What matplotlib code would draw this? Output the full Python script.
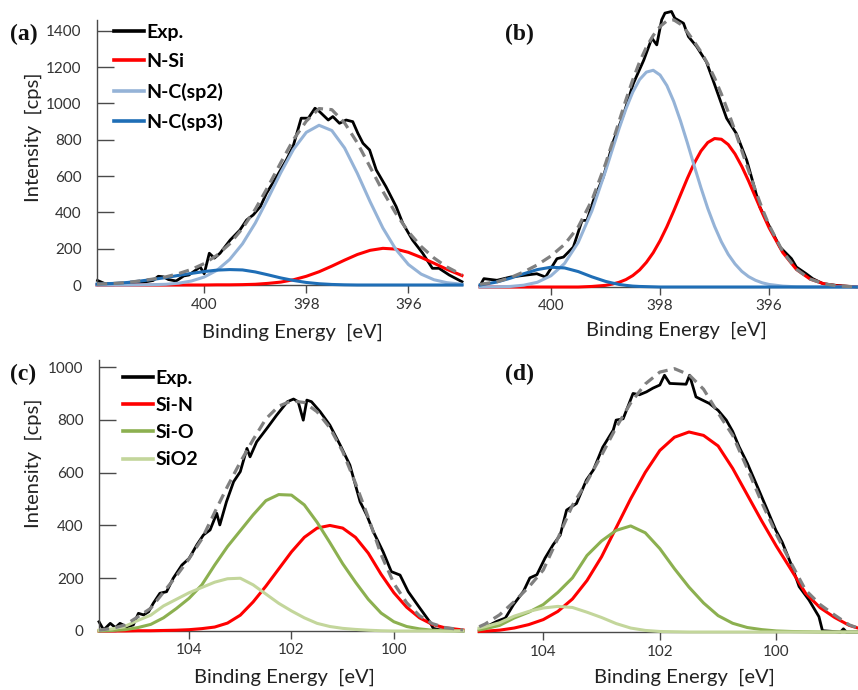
import matplotlib
matplotlib.use("Agg")
import matplotlib.pyplot as plt
from matplotlib.lines import Line2D

# ---------------- data: panel (a) N1s ----------------
a_E_exp = [402.09, 401.95, 401.8, 401.6, 401.4, 401.2, 401.0, 400.9, 400.8, 400.7, 400.55, 400.4, 400.3, 400.15,
           400.08, 400.0, 399.9, 399.8, 399.69, 399.49, 399.3, 399.17, 399.04, 398.9, 398.78, 398.58, 398.39,
           398.26, 398.1, 397.96, 397.83, 397.74, 397.64, 397.57, 397.48, 397.35, 397.22, 397.09, 396.99, 396.89,
           396.76, 396.63, 396.44, 396.24, 396.11, 395.92, 395.72, 395.53, 395.4, 395.2, 394.95]
a_exp = [25, 8, 5, 8, 10, 15, 25, 48, 45, 30, 22, 50, 55, 85, 100, 62, 175, 148, 175, 248, 303, 358, 386, 432,
         505, 597, 689, 762, 919, 919, 974, 955, 928, 909, 928, 891, 909, 900, 836, 781, 744, 634, 542, 432, 340,
         248, 175, 92, 92, 55, 18]
a_E = [402.1, 401.75, 401.5, 401.25, 401.0, 400.75, 400.5, 400.25, 400.0, 399.75, 399.5, 399.25, 399.0, 398.75,
       398.5, 398.25, 398.0, 397.75, 397.5, 397.25, 397.0, 396.75, 396.5, 396.25, 396.0, 395.75, 395.5, 395.25,
       394.95]
a_nsi = [0, 0, 0, 0, 0, 0, 0, 0, 0, 1, 1, 2, 4, 9, 16, 29, 48, 73, 104, 137, 168, 191, 202, 198, 180, 152, 120,
         87, 52]
a_sp2 = [0, 0, 0, 1, 2, 4, 10, 22, 44, 81, 141, 227, 341, 477, 619, 748, 841, 880, 851, 755, 615, 459, 314, 198,
         113, 60, 29, 13, 4]
a_sp3 = [5, 9, 14, 22, 31, 41, 53, 64, 74, 82, 85, 83, 72, 56, 39, 25, 14, 7, 3, 1, 0, 0, 0, 0, 0, 0, 0, 0, 0]
a_fit = [5, 9, 14, 23, 33, 45, 63, 86, 118, 164, 227, 312, 417, 542, 674, 802, 903, 972, 966, 893, 783, 650, 516,
         396, 293, 212, 149, 100, 56]

# ---------------- data: panel (b) N1s ----------------
b_E_exp = [401.3, 401.23, 400.99, 400.74, 400.5, 400.26, 400.1, 399.89, 399.77, 399.59, 399.43, 399.34, 399.22,
           399.04, 398.85, 398.67, 398.49, 398.3, 398.15, 398.06, 397.97, 397.91, 397.79, 397.73, 397.57, 397.48,
           397.33, 397.15, 397.03, 396.78, 396.6, 396.41, 396.29, 396.17, 395.99, 395.8, 395.59, 395.5,
           395.32, 395.2, 395.01, 394.77, 394.4]
b_exp = [9, 46, 37, 55, 64, 73, 55, 156, 165, 220, 367, 367, 478, 606, 808, 950, 1121, 1249, 1371, 1334, 1472,
         1509, 1518, 1481, 1453, 1380, 1325, 1240, 1141, 930, 845, 698, 570, 441, 331, 220, 156, 110, 73, 46,
         18, 9, 0]
b_E = [401.3, 401.0, 400.75, 400.5, 400.25, 400.0, 399.75, 399.5, 399.25, 399.0, 398.875, 398.75, 398.625, 398.5,
       398.375, 398.25, 398.125, 398.0, 397.875, 397.75, 397.625, 397.5, 397.375, 397.25, 397.125, 397.0, 396.875,
       396.75, 396.625, 396.5, 396.375, 396.25, 396.125, 396.0, 395.75, 395.5, 395.25, 395.0, 394.75, 394.4]
b_nsi = [0, 0, 0, 0, 0, 0, 0, 0, 3, 9, 16, 26, 41, 63, 94, 136, 189, 255, 332, 418, 508, 598, 681, 749, 796, 818,
         814, 785, 733, 664, 583, 495, 408, 326, 190, 97, 44, 18, 6, 1]
b_sp2 = [0, 1, 3, 10, 26, 62, 130, 246, 419, 639, 757, 874, 982, 1074, 1143, 1184, 1194, 1168, 1110, 1023, 915,
         795, 669, 547, 433, 334, 249, 180, 127, 86, 57, 37, 23, 14, 5, 1, 0, 0, 0, 0]
b_sp3 = [11, 27, 48, 73, 96, 109, 105, 85, 56, 31, 22, 14, 9, 5, 3, 2, 1, 0, 0, 0, 0, 0, 0, 0, 0, 0, 0, 0, 0, 0,
         0, 0, 0, 0, 0, 0, 0, 0, 0, 0]
b_fit = [15, 28, 51, 83, 122, 171, 235, 331, 478, 679, 795, 914, 1032, 1142, 1240, 1322, 1386, 1435, 1466, 1472,
         1448, 1405, 1352, 1296, 1229, 1152, 1063, 965, 860, 750, 640, 532, 431, 340, 195, 98, 44, 18, 6, 1]

# ---------------- data: panel (c) Si2p ----------------
c_E_exp = [105.76, 105.67, 105.54, 105.44, 105.35, 105.22, 105.09, 104.99, 104.89, 104.79, 104.7, 104.57, 104.44,
           104.31, 104.14, 104.0, 103.85, 103.72, 103.59, 103.46, 103.4, 103.27, 103.13, 103.0, 102.87, 102.81,
           102.68, 102.48, 102.29, 102.08, 101.96, 101.87, 101.77, 101.7, 101.61, 101.44, 101.25, 101.05, 100.86,
           100.66, 100.53, 100.4, 100.21, 100.05, 99.88, 99.72, 99.49, 99.3, 99.23, 99.1, 98.65]
c_exp = [35, 4, 29, 13, 29, 16, 23, 67, 61, 73, 105, 143, 149, 200, 250, 275, 326, 364, 383, 446, 402, 490, 566,
         604, 692, 660, 717, 768, 818, 869, 879, 869, 799, 875, 869, 831, 780, 705, 629, 490, 439, 376, 300, 225,
         212, 149, 86, 35, 10, 4, 0]
c_E = [105.76, 105.5, 105.25, 105.0, 104.75, 104.5, 104.25, 104.0, 103.75, 103.5, 103.25, 103.0, 102.75, 102.5,
       102.25, 102.0, 101.75, 101.5, 101.25, 101.0, 100.75, 100.5, 100.25, 100.0, 99.75, 99.5, 99.25, 99.0, 98.65]
c_sin = [0, 0, 0, 1, 1, 2, 3, 5, 9, 15, 30, 60, 110, 170, 235, 300, 355, 390, 400, 390, 355, 295, 215, 145, 90, 50,
         25, 12, 4]
c_sio = [0, 2, 5, 13, 25, 50, 85, 124, 175, 250, 320, 380, 440, 494, 517, 515, 478, 412, 335, 255, 185, 120, 68,
         35, 17, 8, 3, 1, 0]
c_sio2 = [3, 8, 18, 40, 60, 95, 120, 145, 165, 185, 198, 200, 175, 140, 105, 76, 50, 29, 17, 10, 6, 3, 1, 0, 0, 0,
          0, 0, 0]
c_fit = [3, 10, 23, 54, 86, 147, 208, 274, 349, 450, 548, 640, 725, 804, 852, 872, 866, 831, 770, 680, 560, 430,
         290, 180, 107, 58, 28, 13, 4]

# ---------------- data: panel (d) Si2p ----------------
d_E_exp = [105.09, 104.97, 104.8, 104.65, 104.51, 104.34, 104.23, 104.11, 103.97, 103.83, 103.71, 103.6, 103.43,
           103.26, 103.14, 102.98, 102.8, 102.75, 102.63, 102.58, 102.46, 102.35, 102.23, 102.12, 102.0, 101.92,
           101.83, 101.55, 101.49, 101.38, 101.15, 101.0, 100.86, 100.75, 100.64, 100.5, 100.35, 100.18, 100.01,
           99.9, 99.73, 99.61, 99.44, 99.27, 99.21, 98.9, 98.85, 98.8, 98.6]
d_exp = [9, 21, 40, 53, 104, 154, 205, 217, 280, 331, 367, 462, 487, 576, 614, 700, 765, 803, 808, 836, 904, 899,
         910, 924, 936, 973, 942, 939, 973, 891, 866, 840, 803, 760, 702, 640, 563, 475, 386, 340, 247, 172, 121,
         58, 5, 0, 12, 0, 0]
d_E = [105.1, 105.0, 104.75, 104.5, 104.25, 104.0, 103.75, 103.5, 103.25, 103.0, 102.75, 102.5, 102.25, 102.0,
       101.75, 101.5, 101.25, 101.0, 100.75, 100.5, 100.25, 100.0, 99.75, 99.5, 99.25, 99.0, 98.75, 98.6]
d_sin = [2, 3, 7, 15, 28, 47, 78, 125, 195, 285, 395, 505, 605, 688, 738, 758, 745, 705, 620, 520, 420, 325, 237,
         147, 92, 55, 25, 15]
d_sio = [8, 12, 25, 53, 75, 104, 150, 205, 290, 345, 385, 402, 376, 316, 240, 170, 110, 62, 33, 17, 9, 4, 2, 1, 0,
         0, 0, 0]
d_sio2 = [15, 20, 35, 60, 78, 91, 97, 93, 75, 55, 32, 15, 6, 2, 1, 0, 0, 0, 0, 0, 0, 0, 0, 0, 0, 0, 0, 0]
d_fit = [20, 30, 65, 115, 170, 235, 355, 480, 570, 670, 775, 868, 940, 985, 998, 975, 920, 830, 745, 620, 490, 370,
         262, 159, 104, 64, 27, 15]

n_labels = ["Exp.", "N-Si", "N-C(sp2)", "N-C(sp3)"]
si_labels = ["Exp.", "Si-N", "Si-O", "SiO2"]
a_xticks = [400, 398, 396]
c_xticks = [104, 102, 100]
a_yticks = [0, 200, 400, 600, 800, 1000, 1200, 1400]
c_yticks = [0, 200, 400, 600, 800, 1000]

# ---------------- style ----------------
FONT = "Lato"
C_EXP = "#000000"
C_RED = "#FF0000"
C_SP2 = "#95B3D7"
C_SP3 = "#1F6EB6"
C_SIO = "#8CB050"
C_SIO2 = "#C3D69B"
C_FIT = "#808080"
C_AX = "#4a4a4a"

W, H = 858, 690
fig = plt.figure(figsize=(W / 100, H / 100), dpi=100)


def px_axes(l, r, b, t):
    return fig.add_axes([l / W, 1 - b / H, (r - l) / W, (b - t) / H])


def style(ax, xlim, ylim, xticks, yticks, show_y):
    ax.set_xlim(*xlim)
    ax.set_ylim(*ylim)
    ax.set_xticks(xticks)
    ax.set_xticklabels([str(v) for v in xticks], fontfamily=FONT, fontsize=11, color="#333333")
    for s in ["top", "right"]:
        ax.spines[s].set_visible(False)
    ax.spines["bottom"].set_color(C_AX)
    ax.spines["bottom"].set_linewidth(1.0)
    ax.tick_params(axis="x", direction="out", length=6, width=1.0, color=C_AX, pad=3)
    if show_y:
        ax.spines["left"].set_color(C_AX)
        ax.spines["left"].set_linewidth(1.0)
        ax.set_yticks(yticks)
        ax.set_yticklabels([str(v) for v in yticks], fontfamily=FONT, fontsize=11, color="#333333")
        ax.tick_params(axis="y", direction="in", length=12, width=1.0, color=C_AX, pad=11)
    else:
        ax.spines["left"].set_visible(False)
        ax.set_yticks([])
    ax.patch.set_alpha(0)


def draw(ax, Ee, exp, E, comps, fit):
    ax.plot(Ee, exp, color=C_EXP, lw=2.0, clip_on=False, zorder=2)
    for vals, col in comps:
        ax.plot(E, vals, color=col, lw=2.2, clip_on=False, zorder=3, solid_joinstyle="round")
    ax.plot(E, fit, color=C_FIT, lw=2.3, ls=(0, (3.2, 2.0)), clip_on=False, zorder=4)


# panel (a)
axa = px_axes(97, 462, 285, 20)
draw(axa, a_E_exp, a_exp, a_E, [(a_nsi, C_RED), (a_sp2, C_SP2), (a_sp3, C_SP3)], a_fit)
style(axa, (402.1, 394.95), (0, 1460), a_xticks, a_yticks, True)

# panel (b)
axb = px_axes(479, 858, 287, 22)
draw(axb, b_E_exp, b_exp, b_E, [(b_nsi, C_RED), (b_sp2, C_SP2), (b_sp3, C_SP3)], b_fit)
style(axb, (401.32, 394.37), (0, 1460), a_xticks, a_yticks, False)

# panel (c)
axc = px_axes(99, 463, 631, 360)
draw(axc, c_E_exp, c_exp, c_E, [(c_sin, C_RED), (c_sio, C_SIO), (c_sio2, C_SIO2)], c_fit)
style(axc, (105.76, 98.65), (0, 1027), c_xticks, c_yticks, True)

# panel (d)
axd = px_axes(478, 858, 632, 361)
draw(axd, d_E_exp, d_exp, d_E, [(d_sin, C_RED), (d_sio, C_SIO), (d_sio2, C_SIO2)], d_fit)
style(axd, (105.12, 98.6), (0, 1027), c_xticks, c_yticks, False)


# legends
def legend(ax, labels, colors, x, y, spacing):
    handles = [Line2D([], [], color=c, lw=2.6) for c in colors]
    ax.legend(handles, labels, loc="upper left", bbox_to_anchor=(x / W, 1 - y / H),
              bbox_transform=fig.transFigure, frameon=False, borderpad=0, borderaxespad=0,
              handlelength=1.55, handletextpad=0.1, labelspacing=spacing,
              prop={"family": FONT, "weight": "bold", "size": 14})


legend(axa, n_labels, [C_EXP, C_RED, C_SP2, C_SP3], 114, 24, 0.63)
legend(axc, si_labels, [C_EXP, C_RED, C_SIO, C_SIO2], 123, 370, 0.52)

# axis labels
for (x, y) in [(292, 332), (676, 330), (284, 677), (684, 677)]:
    fig.text(x / W, 1 - y / H, "Binding Energy  [eV]", ha="center", va="center",
             fontfamily=FONT, fontsize=14.5, color="#222222")
for (x, y) in [(33, 137), (33, 463)]:
    fig.text(x / W, 1 - y / H, "Intensity  [cps]", ha="center", va="center", rotation=90,
             fontfamily=FONT, fontsize=14.5, color="#222222")

# panel letters
for (x, y, s) in [(10, 34, "(a)"), (505, 34, "(b)"), (10, 374, "(c)"), (505, 374, "(d)")]:
    fig.text(x / W, 1 - y / H, s, ha="left", va="center", fontfamily="Liberation Serif",
             fontweight="bold", fontsize=17, color="#111111")

fig.savefig("out.png", dpi=100)
